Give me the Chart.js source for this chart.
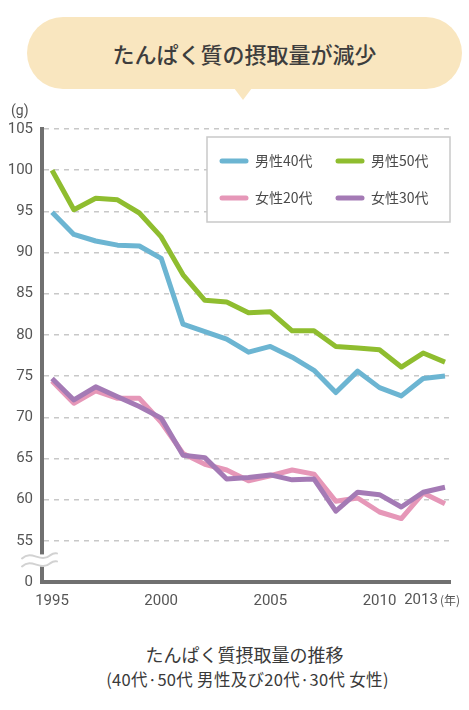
<!DOCTYPE html>
<html lang="ja">
<head>
<meta charset="utf-8">
<title>たんぱく質の摂取量が減少</title>
<script src="https://cdn.jsdelivr.net/npm/chart.js@4.4.1/dist/chart.umd.min.js"></script>
<style>
  html, body { margin: 0; padding: 0; background: #fff; }
  body { width: 469px; height: 710px; position: relative; overflow: hidden;
         font-family: "Noto Sans CJK JP", "Noto Sans", sans-serif; color: #3a3a3a; }
  #bubble { position: absolute; left: 27px; top: 17px; width: 435px; height: 72px;
            border-radius: 36px; background: #f9e6bf; text-align: center;
            line-height: 72px; font-size: 22px; font-weight: 500; color: #3d3d3d; }
  #bubble:after { content: ''; position: absolute; left: 207px; top: 71px;
                  border-left: 9px solid transparent; border-right: 9px solid transparent;
                  border-top: 12px solid #f9e6bf; }
  #wrap { position: absolute; left: 0; top: 95px; width: 469px; height: 540px; }
  #caption { position: absolute; left: 0; width: 469px; top: 640px; text-align: center; }
  #caption .main { font-size: 18px; line-height: 28px; padding-left: 20px; }
  #caption .sub { font-size: 16.5px; line-height: 22px; padding-left: 26px; letter-spacing: 0.3px; }
</style>
</head>
<body>
<div id="bubble">たんぱく質の摂取量が減少</div>
<div id="wrap"><canvas id="proteinChart"></canvas></div>
<div id="caption">
  <div class="main">たんぱく質摂取量の推移</div>
  <div class="sub">(40代·50代 男性及び20代·30代 女性)</div>
</div>
<script>
/* ~~~~~~~~~~ DATA ~~~~~~~~~~*/

const years = [1995, 1996, 1997, 1998, 1999, 2000, 2001, 2002, 2003, 2004,
  2005, 2006, 2007, 2008, 2009, 2010, 2011, 2012, 2013];

const male40 = [94.9, 92.2, 91.4, 90.9, 90.8, 89.3, 81.3, 80.4, 79.5, 77.9,
  78.6, 77.3, 75.7, 73.0, 75.6, 73.6, 72.6, 74.7, 75.0];
const male50 = [100.0, 95.2, 96.6, 96.4, 94.8, 91.9, 87.3, 84.2, 84.0, 82.7,
  82.8, 80.5, 80.5, 78.6, 78.4, 78.2, 76.1, 77.8, 76.7];
const female20 = [74.4, 71.7, 73.2, 72.3, 72.3, 69.4, 65.6, 64.3, 63.6, 62.3,
  62.9, 63.6, 63.1, 59.8, 60.2, 58.5, 57.7, 60.8, 59.5];
const female30 = [74.7, 72.1, 73.7, 72.5, 71.3, 69.9, 65.4, 65.1, 62.5, 62.7,
  63.0, 62.4, 62.5, 58.6, 60.9, 60.6, 59.1, 60.9, 61.5];

const seriesNames = ['男性40代', '男性50代', '女性20代', '女性30代'];
const xTickLabels = [1995, 2000, 2005, 2010, 2013];
const yearSuffix = '(年)';
const yUnit = '(g)';

/* ~~~~~~~~~~ HELPERS ~~~~~~~~~~*/

const toPoints = (values) => years.map((year, i) => ({ x: year, y: values[i] }));

const GREY = '#555';
const tickFont = { family: 'Roboto', size: 15 };

// draws the boxed 2x2 legend, the (g) unit, the axis break and the last year label
const decorations = {
  id: 'decorations',
  afterDatasetsDraw(chart) {
    const { ctx, chartArea, scales } = chart;
    const xScale = scales.x;
    const yScale = scales.y;
    ctx.save();

    // legend box
    const boxLeft = chartArea.left + 165;
    const boxTop = chartArea.top + 8;
    const boxW = chartArea.right - boxLeft;
    const boxH = 85;
    ctx.fillStyle = '#fff';
    ctx.fillRect(boxLeft, boxTop, boxW, boxH);
    ctx.strokeStyle = '#c9c9c9';
    ctx.lineWidth = 1.5;
    ctx.strokeRect(boxLeft, boxTop, boxW, boxH);

    ctx.font = '14px "Noto Sans CJK JP"';
    ctx.textBaseline = 'middle';
    ctx.textAlign = 'left';
    chart.data.datasets.forEach((ds, i) => {
      const col = i % 2;
      const row = Math.floor(i / 2);
      const lx = boxLeft + 15 + col * 116;
      const ly = boxTop + 24 + row * 37;
      ctx.strokeStyle = ds.borderColor;
      ctx.lineWidth = 5;
      ctx.lineCap = 'round';
      ctx.beginPath();
      ctx.moveTo(lx, ly);
      ctx.lineTo(lx + 24, ly);
      ctx.stroke();
      ctx.fillStyle = '#4a4a4a';
      ctx.fillText(ds.label, lx + 33, ly);
    });

    // unit label
    ctx.font = '14px Roboto';
    ctx.fillStyle = GREY;
    ctx.fillText(yUnit, 11, chartArea.top - 18);

    // axis break
    const yBreak = (yScale.getPixelForValue(55) + chartArea.bottom) / 2 - 1;
    const x0 = chartArea.left;
    ctx.fillStyle = '#fff';
    ctx.fillRect(x0 - 4, yBreak - 6, 8, 12);
    ctx.strokeStyle = '#d2d2d2';
    ctx.lineWidth = 2;
    ctx.lineCap = 'round';
    [-4, 4].forEach((dy) => {
      const y = yBreak + dy;
      ctx.beginPath();
      ctx.moveTo(x0 - 20, y + 2);
      ctx.bezierCurveTo(x0 - 10, y - 7, x0 - 2, y + 7, x0 + 8, y - 1);
      ctx.quadraticCurveTo(x0 + 12, y - 4, x0 + 15, y - 3);
      ctx.stroke();
    });

    // last year label with unit suffix
    const last = xTickLabels[xTickLabels.length - 1];
    const ty = xScale.top + 10 + 8;
    const endX = chartArea.right + 10;
    ctx.fillStyle = GREY;
    ctx.font = '12px "Noto Sans CJK JP"';
    ctx.textAlign = 'right';
    ctx.fillText(yearSuffix, endX, ty);
    const sufW = ctx.measureText(yearSuffix).width;
    ctx.font = '15px Roboto';
    ctx.fillText(String(last), endX - sufW - 2, ty);

    ctx.restore();
  }
};

/* ~~~~~~~~~~ CHART ~~~~~~~~~~*/

const ctx = document.getElementById('proteinChart').getContext('2d');

const proteinChart = new Chart(ctx, {
  type: 'line',
  data: {
    datasets: [
      { label: seriesNames[0], data: toPoints(male40), borderColor: '#6cb5d2', order: 2 },
      { label: seriesNames[1], data: toPoints(male50), borderColor: '#8fbd2f', order: 3 },
      { label: seriesNames[2], data: toPoints(female20), borderColor: '#e697b8', order: 1 },
      { label: seriesNames[3], data: toPoints(female30), borderColor: '#a47ab5', order: 0 },
    ],
  },
  options: {
    responsive: true,
    maintainAspectRatio: false,
    animation: false,
    layout: { padding: { top: 34, right: 19, left: 0, bottom: 0 } },
    elements: {
      line: { borderWidth: 5, tension: 0, borderJoinStyle: 'round', fill: false },
      point: { radius: 0, hoverRadius: 0 },
    },
    plugins: {
      legend: { display: false },
      tooltip: { enabled: false },
    },
    scales: {
      x: {
        type: 'linear',
        min: 1994.54,
        max: 2013.23,
        afterBuildTicks: (scale) => {
          scale.ticks = xTickLabels.map((v) => ({ value: v }));
        },
        afterFit: (scale) => { scale.height = 53; },
        grid: { display: false, drawTicks: false },
        border: { color: '#707070', width: 4 },
        ticks: {
          autoSkip: false,
          maxRotation: 0,
          padding: 10,
          color: GREY,
          font: tickFont,
          callback: (v) => (v === xTickLabels[xTickLabels.length - 1] ? '' : String(v)),
        },
      },
      y: {
        min: 50,
        max: 105,
        afterFit: (scale) => { scale.width = 42; },
        grid: { color: '#c8c8c8', lineWidth: 1.5, drawTicks: false },
        // in v4 border.dash also sets the dash of the grid lines
        border: { color: '#707070', width: 4, dash: [5, 5] },
        ticks: {
          stepSize: 5,
          padding: 9,
          color: GREY,
          font: tickFont,
          callback: (v) => (v === 50 ? '0' : v),
        },
      },
    },
  },
  plugins: [decorations],
});
</script>
</body>
</html>
